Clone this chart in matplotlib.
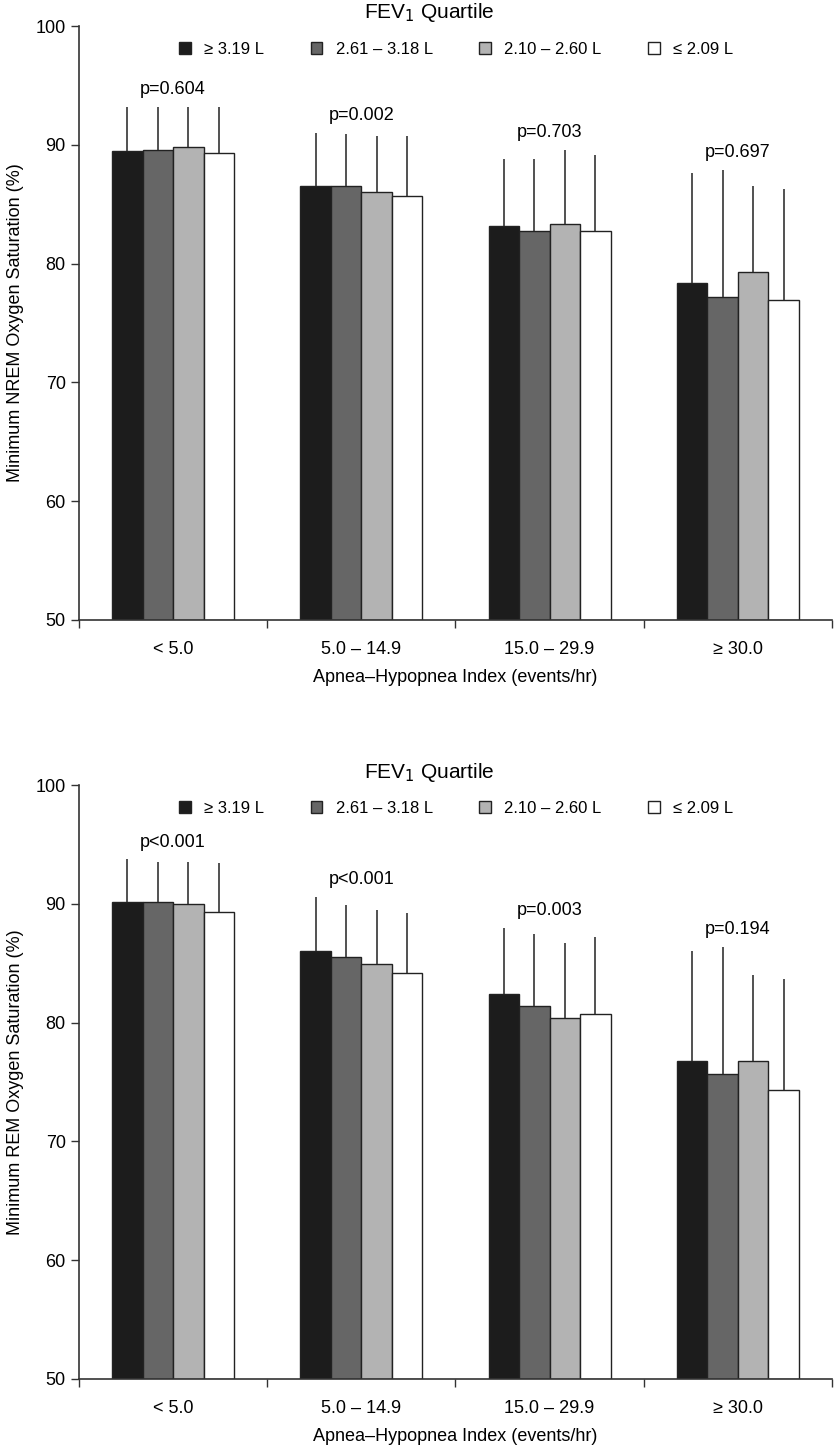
"""Minimum NREM / REM oxygen saturation by AHI category and FEV1 quartile.
"""
import numpy as np
import matplotlib.pyplot as plt
from matplotlib.patches import Patch

plt.rcParams['font.family'] = ['Liberation Sans', 'DejaVu Sans']

# AHI categories (x axis)
ahi_labels = ['< 5.0', '5.0 \u2013 14.9', '15.0 \u2013 29.9', '\u2265 30.0']

# FEV1 quartiles (legend)
quartile_labels = ['\u2265 3.19 L', '2.61 \u2013 3.18 L', '2.10 \u2013 2.60 L', '\u2264 2.09 L']
quartile_colors = ['#1c1c1c', '#666666', '#b3b3b3', '#ffffff']

# top panel: minimum NREM saturation, mean per quartile across AHI groups
nrem_q1 = [89.5, 86.5, 83.2, 78.4]
nrem_q2 = [89.6, 86.5, 82.7, 77.2]
nrem_q3 = [89.8, 86.0, 83.3, 79.3]
nrem_q4 = [89.3, 85.7, 82.7, 76.9]
# upper error (SD)
nrem_err_q1 = [3.7, 4.5, 5.6, 9.2]
nrem_err_q2 = [3.6, 4.4, 6.1, 10.7]
nrem_err_q3 = [3.4, 4.7, 6.3, 7.2]
nrem_err_q4 = [3.9, 5.0, 6.4, 9.4]
nrem_p = ['p=0.604', 'p=0.002', 'p=0.703', 'p=0.697']

# bottom panel: minimum REM saturation
rem_q1 = [90.15, 86.0, 82.4, 76.8]
rem_q2 = [90.15, 85.5, 81.4, 75.7]
rem_q3 = [90.0, 84.9, 80.4, 76.8]
rem_q4 = [89.3, 84.2, 80.7, 74.3]
rem_err_q1 = [3.6, 4.6, 5.6, 9.2]
rem_err_q2 = [3.4, 4.4, 6.1, 10.7]
rem_err_q3 = [3.5, 4.6, 6.3, 7.2]
rem_err_q4 = [4.1, 5.0, 6.5, 9.4]
rem_p = ['p<0.001', 'p<0.001', 'p=0.003', 'p=0.194']

FS = 13
BAR_W = 0.162


def plot_panel(ax, means, errs, pvals, ylabel):
    """Grouped bars with upward-only error lines."""
    centers = np.arange(len(ahi_labels)) + 0.5
    n = len(means)
    tops = np.zeros(len(ahi_labels))
    for i, (m, e) in enumerate(zip(means, errs)):
        x = centers + (i - (n - 1) / 2) * BAR_W
        m = np.asarray(m)
        e = np.asarray(e)
        ax.bar(x, m - 50, bottom=50, width=BAR_W, color=quartile_colors[i],
               edgecolor='#222222', linewidth=1.0, zorder=2)
        ax.errorbar(x, m, yerr=[np.zeros_like(e), e], fmt='none',
                    ecolor='#333333', elinewidth=1.2, capsize=0, zorder=3)
        tops = np.maximum(tops, m + e)
    for c, t, p in zip(centers, tops, pvals):
        ax.text(c, t + 1.45, p, ha='center', va='center', fontsize=FS)

    ax.set_xlim(0, len(ahi_labels))
    ax.set_ylim(50, 100)
    ax.set_yticks([50, 60, 70, 80, 90, 100])
    ax.set_xticks(np.arange(len(ahi_labels) + 1))
    ax.set_xticklabels([])
    ax.set_xticks(centers, minor=True)
    ax.set_xticklabels(ahi_labels, minor=True, fontsize=FS)
    ax.tick_params(axis='x', which='minor', length=0, pad=15)
    ax.tick_params(axis='x', which='major', length=6, width=1, color='#333333')
    ax.tick_params(axis='y', labelsize=FS, length=6, width=1, color='#333333')
    for side in ['top', 'right']:
        ax.spines[side].set_visible(False)
    for side in ['left', 'bottom']:
        ax.spines[side].set_linewidth(1.2)
        ax.spines[side].set_color('#333333')
    ax.set_xlabel('Apnea\u2013Hypopnea Index (events/hr)', fontsize=FS, labelpad=8)
    ax.set_ylabel(ylabel, fontsize=FS, labelpad=8)

    # legend: title drawn on its own, entries in one row below it
    ax.text(0.465, 1.022, 'FEV$_1$ Quartile', transform=ax.transAxes,
            ha='center', va='center', fontsize=15)
    handles = [Patch(facecolor=c, edgecolor='#222222', linewidth=1.0)
               for c in quartile_colors]
    ax.legend(handles, quartile_labels, loc='center',
              bbox_to_anchor=(0.501, 0.961), ncol=4,
              frameon=False, fontsize=12,
              handlelength=0.7, handleheight=0.7, handletextpad=0.8,
              columnspacing=2.8, borderpad=0.1)
    return ax


fig = plt.figure(figsize=(8.35, 14.45), dpi=100)
ax_top = fig.add_axes([0.0946, 0.571, 0.9018, 0.411])
ax_bot = fig.add_axes([0.0946, 0.0457, 0.9018, 0.411])

plot_panel(ax_top, [nrem_q1, nrem_q2, nrem_q3, nrem_q4],
           [nrem_err_q1, nrem_err_q2, nrem_err_q3, nrem_err_q4],
           nrem_p, 'Minimum NREM Oxygen Saturation (%)')
plot_panel(ax_bot, [rem_q1, rem_q2, rem_q3, rem_q4],
           [rem_err_q1, rem_err_q2, rem_err_q3, rem_err_q4],
           rem_p, 'Minimum REM Oxygen Saturation (%)')

plt.savefig('out.png', dpi=100)
